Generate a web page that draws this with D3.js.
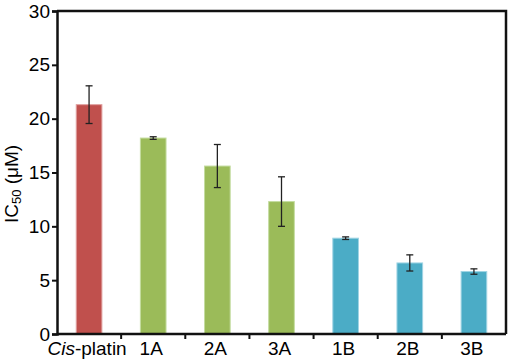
<!DOCTYPE html>
<html>
<head>
<meta charset="utf-8">
<script src="https://cdn.jsdelivr.net/npm/d3@7"></script>
<style>
  body { margin: 0; background: #fff; }
  svg { display: block; font-family: "Liberation Sans", Arial, sans-serif; }
</style>
</head>
<body>
<svg id="chart"></svg>
<script>
// data
const categories = ["Cis-platin", "1A", "2A", "3A", "1B", "2B", "3B"];
const ic50 = [21.3, 18.2, 15.6, 12.3, 8.9, 6.6, 5.8];
const errs = [1.75, 0.12, 2.0, 2.3, 0.12, 0.75, 0.25];
const groups = ["ref", "A", "A", "A", "B", "B", "B"];
const yTicks = [0, 5, 10, 15, 20, 25, 30];

const fills = {ref: "#c0504d", A: "#9bbb59", B: "#4bacc6"};
const edges = {ref: "#e0a0a0", A: "#c4dca0", B: "#a0d4e4"};

const width = 510, height = 364;
const margin = {top: 11, right: 4, bottom: 30, left: 57};

const svg = d3.select("#chart").attr("width", width).attr("height", height);

const x = d3.scaleBand()
    .domain(categories)
    .range([margin.left, width - margin.right])
    .paddingInner(0.6)
    .paddingOuter(0.3);

const y = d3.scaleLinear()
    .domain([0, 30])
    .range([height - margin.bottom, margin.top]);

const data = categories.map((c, i) => ({cat: c, v: ic50[i], e: errs[i], g: groups[i]}));

// bars
svg.append("g").selectAll("rect")
    .data(data)
    .enter()
    .append("rect")
    .attr("x", d => x(d.cat))
    .attr("y", d => y(d.v))
    .attr("width", x.bandwidth())
    .attr("height", d => y(0) - y(d.v))
    .attr("fill", d => fills[d.g])
    .attr("stroke", d => edges[d.g])
    .attr("stroke-width", 1);

// error bars
const eb = svg.append("g").attr("stroke", "#222").attr("stroke-width", 1.3);
data.forEach(d => {
    const cx = x(d.cat) + x.bandwidth() / 2;
    eb.append("line").attr("x1", cx).attr("x2", cx).attr("y1", y(d.v + d.e)).attr("y2", y(d.v - d.e));
    [d.v + d.e, d.v - d.e].forEach(v => {
        eb.append("line").attr("x1", cx - 3.5).attr("x2", cx + 3.5).attr("y1", y(v)).attr("y2", y(v));
    });
});

// frame (top & right)
svg.append("path")
    .attr("d", `M${margin.left},${margin.top}H${width - margin.right}V${height - margin.bottom}`)
    .attr("fill", "none")
    .attr("stroke", "#111")
    .attr("stroke-width", 2.5);

// y axis
const yAxis = svg.append("g")
    .attr("transform", `translate(${margin.left},0)`)
    .call(d3.axisLeft(y).tickValues(yTicks).tickSize(5).tickPadding(2));
yAxis.select(".domain").attr("stroke", "#111").attr("stroke-width", 2.5);
yAxis.selectAll(".tick line").attr("stroke", "#111").attr("stroke-width", 2);
yAxis.selectAll("text").attr("font-size", "19px").attr("fill", "#000")
    .attr("font-family", "Liberation Sans, Arial, sans-serif");

// x axis: ticks between categories
const xAxis = svg.append("g")
    .attr("transform", `translate(0,${y(0)})`);
xAxis.append("line")
    .attr("x1", margin.left).attr("x2", width - margin.right)
    .attr("stroke", "#111").attr("stroke-width", 2.5);
const bounds = categories.slice(1).map(c => x(c) - x.step() * x.paddingInner() / 2);
xAxis.selectAll(".xt")
    .data(bounds)
    .enter()
    .append("line")
    .attr("x1", d => d).attr("x2", d => d)
    .attr("y1", 0).attr("y2", 5)
    .attr("stroke", "#111").attr("stroke-width", 2);

const labels = xAxis.selectAll(".xl")
    .data(categories)
    .enter()
    .append("text")
    .attr("x", d => x(d) + x.bandwidth() / 2 - 2)
    .attr("y", 21)
    .attr("text-anchor", "middle")
    .attr("font-size", "19px")
    .attr("fill", "#000");
labels.each(function(d) {
    const t = d3.select(this);
    if (d.startsWith("Cis")) {
        t.append("tspan").attr("font-style", "italic").text("Cis");
        t.append("tspan").text(d.slice(3));
    } else {
        t.text(d);
    }
});

// y label
const yl = svg.append("text")
    .attr("transform", `translate(18,${184}) rotate(-90)`)
    .attr("text-anchor", "middle")
    .attr("font-size", "19px")
    .attr("fill", "#000");
yl.append("tspan").text("IC");
yl.append("tspan").attr("font-size", "13px").attr("dy", 3).text("50");
yl.append("tspan").attr("dy", -3).text(" (μM)");
</script>
</body>
</html>
